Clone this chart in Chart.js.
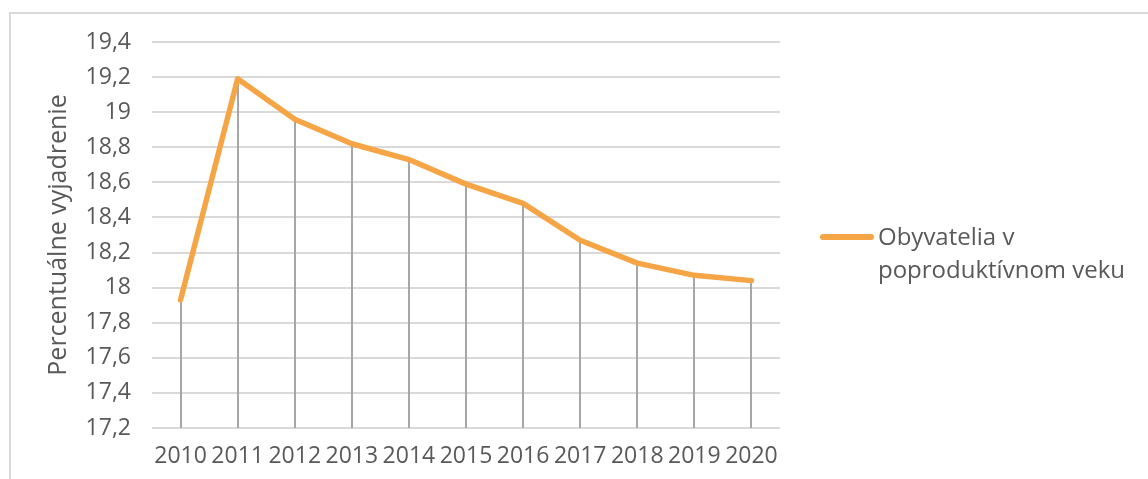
<!DOCTYPE html>
<html>
<head>
<meta charset="utf-8">
<script src="https://cdn.jsdelivr.net/npm/chart.js@4/dist/chart.umd.min.js"></script>
<style>
  html, body { margin: 0; padding: 0; background: #fff; }
  #wrap { position: relative; width: 1148px; height: 479px; overflow: hidden; }
  #frame {
    position: absolute; left: 9px; top: 12px; width: 1200px; height: 520px;
    border-left: 2px solid #d9d9d9; border-top: 2px solid #d9d9d9;
  }
  #chart { position: absolute; left: 0; top: 0; }
  #legend {
    position: absolute; left: 820px; top: 219px;
    font-family: 'Open Sans', sans-serif; font-size: 24px; color: #595959; line-height: 33px;
  }
  #legend .swatch {
    position: absolute; left: 0; top: 15px; width: 54px; height: 6px;
    border-radius: 3px; background: #f5a545;
  }
  #legend .text { margin-left: 58px; }
</style>
</head>
<body>
<div id="wrap">
  <div id="frame"></div>
  <canvas id="chart" width="1148" height="479"></canvas>
  <div id="legend"><div class="swatch"></div><div class="text" id="legend-text"></div></div>
</div>
<script>
/* ─── Data ───────────────────────────────────────────────── */
const years  = ['2010', '2011', '2012', '2013', '2014', '2015', '2016', '2017', '2018', '2019', '2020'];
const values = [17.93, 19.19, 18.96, 18.82, 18.73, 18.59, 18.48, 18.27, 18.14, 18.07, 18.04];
const seriesName = 'Obyvatelia v poproduktívnom veku';
const seriesNameLines = ['Obyvatelia v', 'poproduktívnom veku'];
const yAxisTitle = 'Percentuálne vyjadrenie';

const FONT = "'Open Sans', sans-serif";
const TEXT = '#595959';

/* ─── Drop lines (point → bottom of plot) ────────────────── */
const dropLines = {
  id: 'dropLines',
  beforeDatasetsDraw(chart) {
    const { ctx, chartArea } = chart;
    const meta = chart.getDatasetMeta(0);
    ctx.save();
    ctx.strokeStyle = '#a6a6a6';
    ctx.lineWidth = 2;
    meta.data.forEach(pt => {
      ctx.beginPath();
      ctx.moveTo(Math.round(pt.x), pt.y);
      ctx.lineTo(Math.round(pt.x), chartArea.bottom);
      ctx.stroke();
    });
    ctx.restore();
  }
};

document.getElementById('legend-text').innerHTML = seriesNameLines.join('<br>');

new Chart(document.getElementById('chart'), {
  type: 'line',
  data: {
    labels: years,
    datasets: [{
      label: seriesName,
      data: values,
      borderColor: '#f5a545',
      borderWidth: 5.5,
      borderJoinStyle: 'round',
      borderCapStyle: 'round',
      pointRadius: 0,
      tension: 0
    }]
  },
  options: {
    responsive: false,
    animation: false,
    layout: { padding: { left: 0, right: 368, top: 42, bottom: 0 } },
    plugins: { legend: { display: false }, tooltip: { enabled: false } },
    scales: {
      x: {
        offset: true,
        grid: { display: false },
        border: { display: false },
        ticks: { color: TEXT, font: { family: FONT, size: 23 }, padding: 7, maxRotation: 0, autoSkip: false },
        afterFit(scale) { scale.height = 51; }
      },
      y: {
        min: 17.2,
        max: 19.4,
        grid: { color: '#d9d9d9', lineWidth: 2, drawTicks: false },
        border: { display: false },
        ticks: {
          stepSize: 0.2,
          color: TEXT,
          font: { family: FONT, size: 23 },
          padding: 21,
          callback: v => String(Number(v.toFixed(1))).replace('.', ',')
        },
        title: {
          display: true,
          text: yAxisTitle,
          color: TEXT,
          font: { family: FONT, size: 25 },
          padding: { top: 44, bottom: 0 }
        },
        afterFit(scale) { scale.width = 152; }
      }
    }
  },
  plugins: [dropLines]
});
</script>
</body>
</html>
